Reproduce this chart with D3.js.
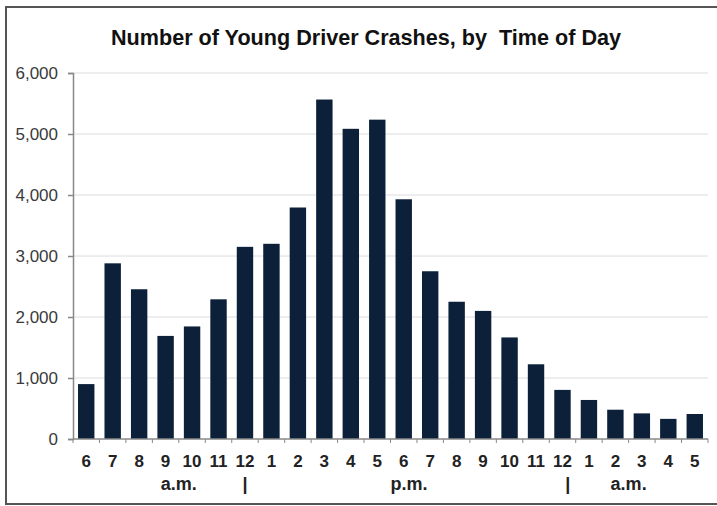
<!DOCTYPE html>
<html>
<head>
<meta charset="utf-8">
<script src="https://cdn.jsdelivr.net/npm/d3@7"></script>
<style>
  body { margin: 0; background: #fff; }
  svg { display: block; font-family: "Liberation Sans", Arial, sans-serif; }
</style>
</head>
<body>
<div id="chart"></div>
<script>
// hours of the day, starting at 6 a.m.
let hours = ["6", "7", "8", "9", "10", "11", "12", "1", "2", "3", "4", "5",
             "6", "7", "8", "9", "10", "11", "12", "1", "2", "3", "4", "5"];
let crashes = [900, 2880, 2455, 1690, 1845, 2290, 3150, 3200, 3795, 5565, 5085, 5235,
               3930, 2750, 2250, 2100, 1665, 1225, 805, 640, 480, 420, 330, 410];
let yTicks = [0, 1000, 2000, 3000, 4000, 5000, 6000];
let periods = ["a.m.", "|", "p.m.", "|", "a.m."];

(function () {
    let width = 717, height = 506;
    let margin = {top: 73, right: 9, bottom: 67, left: 73};
    let svg = d3.select("#chart")
        .append("svg")
        .attr("width", width)
        .attr("height", height);

    // outer frame
    svg.append("rect")
        .attr("x", 6)
        .attr("y", 7)
        .attr("width", 740)
        .attr("height", 497)
        .attr("fill", "none")
        .attr("stroke", "#555")
        .attr("stroke-width", 2);

    svg.append("text")
        .attr("x", 366)
        .attr("y", 45)
        .attr("text-anchor", "middle")
        .attr("font-size", "22px")
        .attr("font-weight", "bold")
        .attr("fill", "#111")
        .style("white-space", "pre")
        .attr("textLength", 510)
        .attr("lengthAdjust", "spacingAndGlyphs")
        .text("Number of Young Driver Crashes, by  Time of Day");

    let x = d3.scaleBand()
        .domain(d3.range(hours.length))
        .range([margin.left, width - margin.right])
        .paddingInner(0.38)
        .paddingOuter(0.19);
    let y = d3.scaleLinear()
        .domain([0, 6000])
        .range([height - margin.bottom, margin.top]);

    // gridlines
    svg.append("g")
        .selectAll("line")
        .data(yTicks.slice(1))
        .enter()
        .append("line")
        .attr("x1", margin.left)
        .attr("x2", width - margin.right)
        .attr("y1", d => y(d))
        .attr("y2", d => y(d))
        .attr("stroke", "#dcdcdc")
        .attr("stroke-width", 1);

    svg.append("g")
        .selectAll("rect")
        .data(crashes)
        .enter()
        .append("rect")
        .attr("x", (_, i) => x(i))
        .attr("y", d => y(d))
        .attr("width", x.bandwidth())
        .attr("height", d => y(0) - y(d))
        .attr("fill", "#0c203a");

    // y axis
    let yAxis = svg.append("g")
        .attr("transform", `translate(${margin.left},0)`)
        .call(d3.axisLeft(y).tickValues(yTicks).tickFormat(d3.format(",")).tickSize(5).tickPadding(10));
    yAxis.selectAll("text")
        .attr("font-size", "17px")
        .attr("fill", "#3a3a3a");
    yAxis.selectAll("path, line").attr("stroke", "#888").attr("stroke-width", 1.5);

    // x axis line with ticks at band boundaries
    let step = x.step();
    let x0 = margin.left;
    svg.append("line")
        .attr("x1", x0)
        .attr("x2", width - margin.right)
        .attr("y1", y(0))
        .attr("y2", y(0))
        .attr("stroke", "#888")
        .attr("stroke-width", 1.5);
    svg.append("g")
        .selectAll("line")
        .data(d3.range(hours.length + 1))
        .enter()
        .append("line")
        .attr("x1", i => x0 + i * step)
        .attr("x2", i => x0 + i * step)
        .attr("y1", y(0))
        .attr("y2", y(0) + 4)
        .attr("stroke", "#888")
        .attr("stroke-width", 1);

    svg.append("g")
        .selectAll("text")
        .data(hours)
        .enter()
        .append("text")
        .attr("x", (_, i) => x(i) + x.bandwidth() / 2)
        .attr("y", y(0) + 28)
        .attr("text-anchor", "middle")
        .attr("font-size", "17px")
        .attr("font-weight", "bold")
        .attr("fill", "#222")
        .text(d => d);

    // a.m. / p.m. row, placed in band steps from the axis start
    let periodAt = [4, 6.5, 12.7, 18.7, 21];
    svg.append("g")
        .selectAll("text")
        .data(periods)
        .enter()
        .append("text")
        .attr("x", (_, i) => x0 + periodAt[i] * step)
        .attr("y", y(0) + 51)
        .attr("text-anchor", "middle")
        .attr("font-size", "18px")
        .attr("font-weight", "bold")
        .attr("fill", "#222")
        .text(d => d);
})()
</script>
</body>
</html>
